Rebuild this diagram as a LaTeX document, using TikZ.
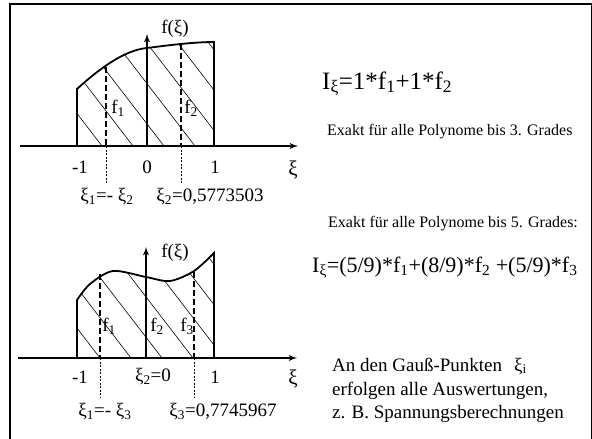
\documentclass[tikz,border=0pt]{standalone}
\usepackage{fontspec}
\setmainfont{Liberation Serif}
\usetikzlibrary{arrows}

\tikzset{
  dick/.style={line width=1.8pt},
  schraffur/.style={line width=0.6pt},
  gstrich/.style={line width=1.8pt, dash pattern=on 6pt off 3pt},
  fstrich/.style={line width=0.6pt, dash pattern=on 2pt off 1.5pt},
  beschr/.style={inner sep=0pt, font=\fontsize{19}{21}\selectfont},
  klein/.style={inner sep=0pt, anchor=base west, font=\fontsize{16}{19}\selectfont},
  mittel/.style={inner sep=0pt, anchor=base west, font=\fontsize{19}{23}\selectfont},
}

\begin{document}
\begin{tikzpicture}[>=latex', x=1pt, y=-1pt]
\useasboundingbox (0,0) rectangle (592,439);
% Rahmen
\draw[line width=2.4pt] (10,439) -- (10,4) -- (592,4);
\draw[line width=0.8pt] (591,4) -- (591,439);

% oben: zwei Gauss-Punkte
\coordinate (a1l) at (20,146);
\coordinate (a1r) at (298,146);
\coordinate (o1) at (147,146);
\coordinate (o1t) at (147,34);
\begin{scope}
  \clip (77,146) -- (77,89) .. controls (100,68) and (125,50) .. (147,48)
        .. controls (170,45) and (195,42) .. (214,42) -- (214,146) -- cycle;
  \foreach \a in {102,133,...,288}
    \draw[schraffur] (\a,146) -- ++(-110,-143);
\end{scope}
\draw[dick] (77,146) -- (77,89) .. controls (100,68) and (125,50) .. (147,48)
      .. controls (170,45) and (195,42) .. (214,42) -- (214,146);
\draw[gstrich] (106,67) -- (106,146);
\draw[fstrich] (106,146) -- (106,184);
\draw[gstrich] (181,44) -- (181,146);
\draw[fstrich] (181,146) -- (181,184);
\draw[dick,->] (a1l) -- (a1r);
\draw[dick,->] (o1) -- (o1t);
\node[beschr] (m1) at (80,167) {-1};
\node[beschr] (n1) at (147,167) {0};
\node[beschr] (e1) at (215,167) {1};
\node[beschr, font=\fontsize{21}{23}\selectfont] (xi1) at (293,170) {ξ};
\node[beschr] (f1) at (175,29) {f(ξ)};
\node[beschr] (fa1) at (118,108) {f\textsubscript{1}};
\node[beschr] (fb1) at (191,108) {f\textsubscript{2}};
\node[beschr] (xa1) at (107,197) {ξ\textsubscript{1}=- ξ\textsubscript{2}};
\node[beschr] (xb1) at (210,197) {ξ\textsubscript{2}=0,5773503};

% unten: drei Gauss-Punkte
\coordinate (a2l) at (18,358);
\coordinate (a2r) at (297,358);
\coordinate (o2) at (146,358);
\coordinate (o2t) at (146,247);
\begin{scope}
  \clip (77,358) -- (77,300) -- plot[smooth] coordinates {(77,300) (90,284) (113,271) (146,277) (170,281) (194,271) (214,253)}
        -- (214,358) -- cycle;
  \foreach \a in {100,131,...,300}
    \draw[schraffur] (\a,358) -- ++(-110,-143);
\end{scope}
\draw[dick] (77,358) -- (77,300) -- plot[smooth] coordinates {(77,300) (90,284) (113,271) (146,277) (170,281) (194,271) (214,253)}
      -- (214,358);
\draw[gstrich] (100,274) -- (100,358);
\draw[fstrich] (100,358) -- (100,397);
\draw[gstrich] (194,272) -- (194,358);
\draw[fstrich] (194,358) -- (194,397);
\draw[dick,->] (a2l) -- (a2r);
\draw[dick,->] (o2) -- (o2t);
\node[beschr] (m2) at (80,377) {-1};
\node[beschr] (n2) at (153,377) {ξ\textsubscript{2}=0};
\node[beschr] (e2) at (215,377) {1};
\node[beschr, font=\fontsize{21}{23}\selectfont] (xi2) at (293,379) {ξ};
\node[beschr] (f2) at (175,253) {f(ξ)};
\node[beschr] (fa2) at (109,326) {f\textsubscript{1}};
\node[beschr] (fb2) at (157,326) {f\textsubscript{2}};
\node[beschr] (fc2) at (187,326) {f\textsubscript{3}};
\node[beschr] (xa2) at (105,412) {ξ\textsubscript{1}=- ξ\textsubscript{3}};
\node[beschr] (xc2) at (223,412) {ξ\textsubscript{3}=0,7745967};

% Formeln und Text
\node[inner sep=0pt, anchor=base west, font=\fontsize{25}{30}\selectfont] (int1) at (322,89)
  {I\textsubscript{ξ}=1*f\textsubscript{1}+1*f\textsubscript{2}};
\node[klein] (ex3) at (327,135) {Exakt für alle Polynome bis 3. Grades};
\node[klein] (ex5) at (328,227) {Exakt für alle Polynome bis 5. Grades:};
\node[inner sep=0pt, anchor=base west, font=\fontsize{22}{26}\selectfont] (int2) at (312,272)
  {I\textsubscript{ξ}=(5/9)*f\textsubscript{1}+(8/9)*f\textsubscript{2} +(5/9)*f\textsubscript{3}};
\node[mittel] (gp1) at (332,371) {An den Gauß-Punkten\hspace{12pt}ξ\textsubscript{i}};
\node[mittel] (gp2) at (332,395) {erfolgen alle Auswertungen,};
\node[mittel] (gp3) at (332,418) {z. B. Spannungsberechnungen};
\end{tikzpicture}
\end{document}
